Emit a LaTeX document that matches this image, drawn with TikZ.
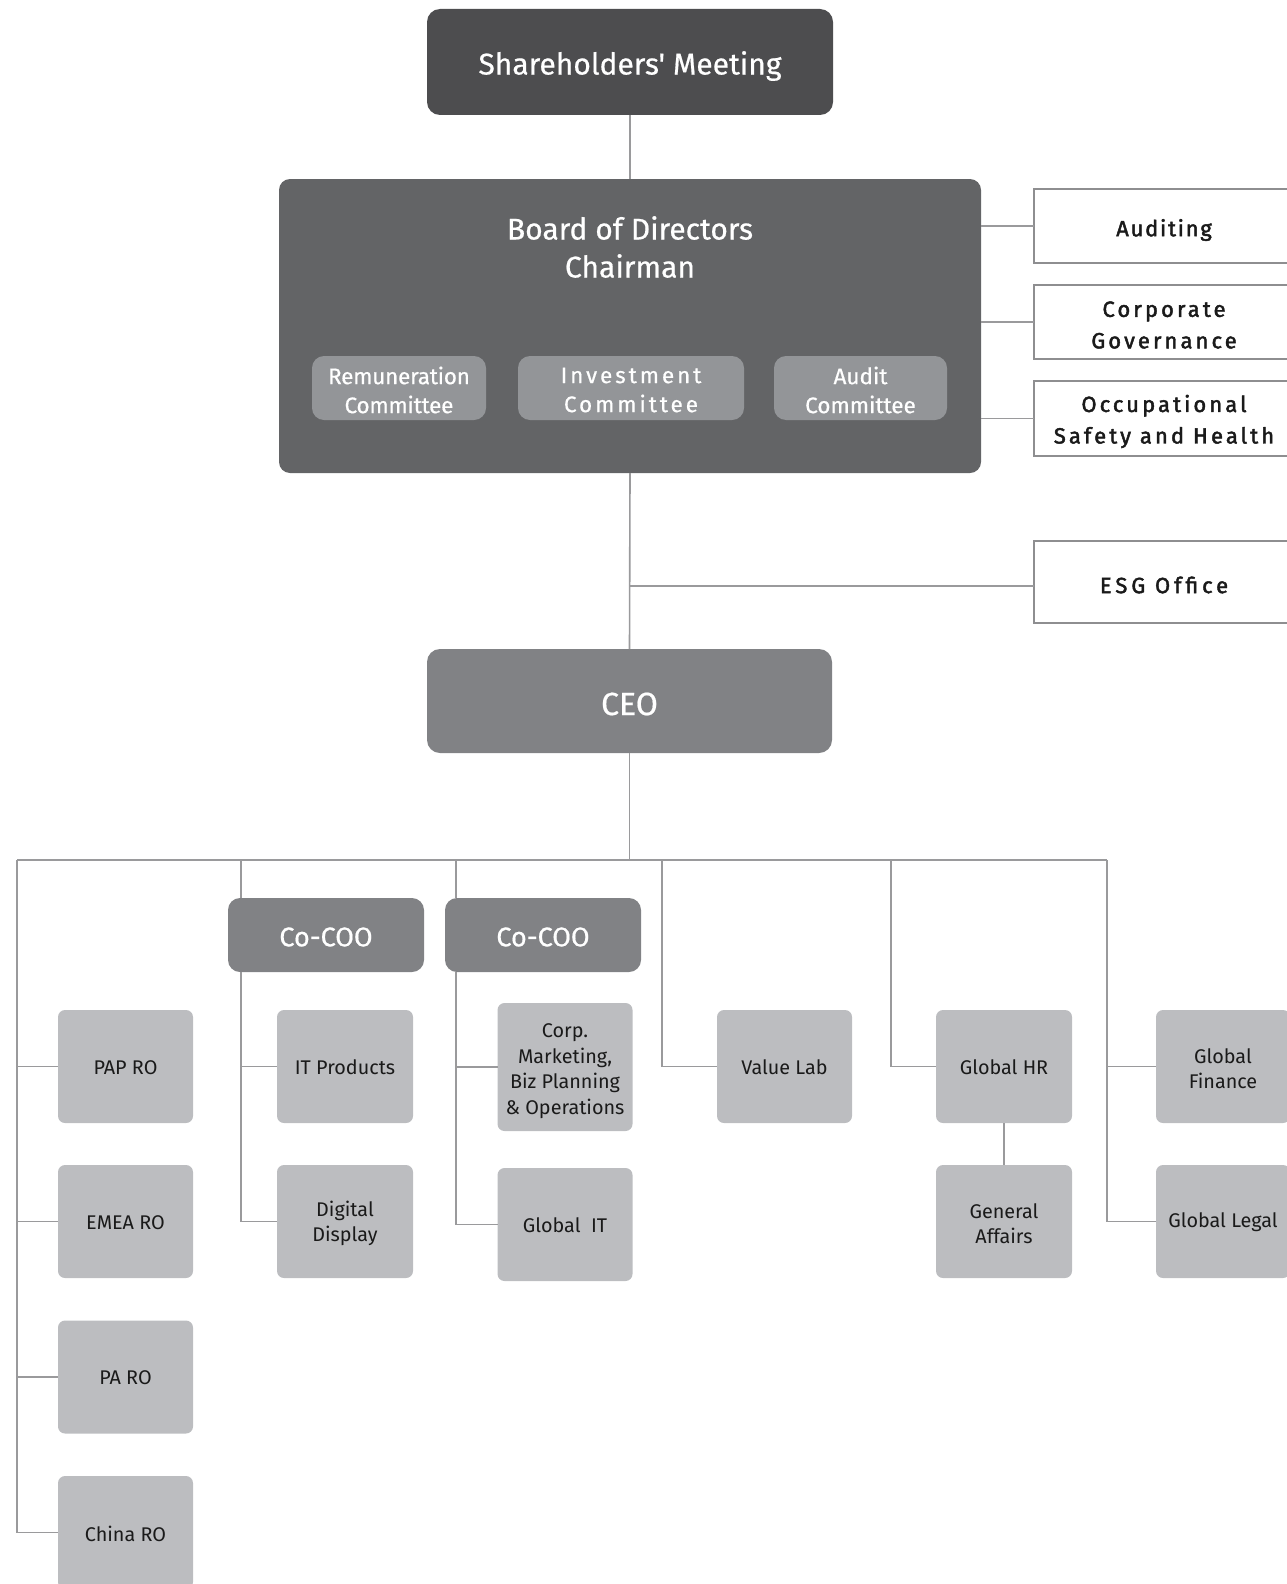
\documentclass[tikz,border=0pt]{standalone}
\usepackage{fontspec}
\setmainfont{Fira Sans}[Ligatures=TeXOff]
\newfontfamily\wfont{Fira Sans}[FakeBold=0.6, Ligatures=TeXOff]
\newfontfamily\sfont{Fira Sans}[FakeBold=2, Ligatures=TeXOff]
\definecolor{cdark}{HTML}{4D4D4F}
\definecolor{cboard}{HTML}{636466}
\definecolor{ccomm}{HTML}{939598}
\definecolor{cceo}{HTML}{818285}
\definecolor{cgray}{HTML}{BCBDC0}
\definecolor{cline}{HTML}{9A9A9C}
\definecolor{cborder}{HTML}{8E8E90}
\definecolor{ctext}{HTML}{1A1A1A}
\tikzset{
  conn/.style={draw=cline, line width=1.6},
  base/.style={inner sep=0, outer sep=0, align=center},
  shbox/.style={base, fill=cdark, rounded corners=13},
  boardbox/.style={base, fill=cboard, rounded corners=11},
  commbox/.style={base, fill=ccomm, rounded corners=12, minimum height=64},
  sidebox/.style={base, draw=cborder, line width=2.6, fill=white, minimum width=260},
  ceobox/.style={base, fill=cceo, rounded corners=13},
  coobox/.style={base, fill=cceo, rounded corners=12, minimum width=196, minimum height=74},
  graybox/.style={base, fill=cgray, rounded corners=7, minimum width=135, minimum height=113},
  bigtxt/.style={base, text=white, font=\wfont\fontsize{30}{38}\selectfont},
  commtxt/.style={base, text=white, font=\wfont\fontsize{22.5}{29}\selectfont},
  sidetxt/.style={base, text=ctext, font=\sfont\fontsize{22}{31.5}\selectfont},
  ceotxt/.style={base, text=white, font=\wfont\fontsize{32}{36}\selectfont},
  cootxt/.style={base, text=white, font=\wfont\fontsize{27}{30}\selectfont},
  graytxt/.style={base, text=ctext, font=\fontsize{19.8}{25.5}\selectfont},
}
\newcommand\wide[1]{\addfontfeatures{LetterSpace=#1}}
\begin{document}
\begin{tikzpicture}[x=1pt,y=-1pt]
\useasboundingbox (0,0) rectangle (1287,1584);

% top level
\node[shbox, minimum width=406, minimum height=106] (sh) at (630,62) {};
\node[bigtxt, yshift=-4] (sh-t) at (sh) {Shareholders' Meeting};
\node[boardbox, minimum width=702, minimum height=294] (board) at (630,326) {};
\node[bigtxt] (board-t) at (630,247) {Board of Directors\\Chairman};
\node[commbox, minimum width=174] (rem) at (399,388) {};
\node[commtxt, yshift=-2] (rem-t) at (rem) {\wide{-1}Remuneration\\\wide{-1}Committee};
\node[commbox, minimum width=226] (inv) at (631,388) {};
\node[commtxt, yshift=-2] (inv-t) at (inv) {\wide{13}Investment\\\wide{13}Committee};
\node[commbox, minimum width=173] (aud) at (860.5,388) {};
\node[commtxt, yshift=-2] (aud-t) at (aud) {Audit\\Committee};

% side boxes
\node[sidebox, minimum height=74] (auditing) at (1164,226) {};
\node[sidetxt, yshift=-4] (auditing-t) at (auditing) {\wide{8}Auditing};
\node[sidebox, minimum height=74] (cg) at (1164,322) {};
\node[sidetxt, yshift=-3] (cg-t) at (cg) {\wide{14}Corporate\\\wide{14}Governance};
\node[sidebox, minimum height=75] (osh) at (1164,418.5) {};
\node[sidetxt, yshift=-3] (osh-t) at (osh) {\wide{14}Occupational\\\wide{14}Safety and Health};
\node[sidebox, minimum height=82] (esg) at (1164,582) {};
\node[sidetxt, yshift=-3] (esg-t) at (esg) {\wide{18}ESG Office};

% CEO
\node[ceobox, minimum width=405, minimum height=104] (ceo) at (629.5,701) {};
\node[ceotxt, yshift=-3] (ceo-t) at (ceo) {CEO};

% connectors top
\draw[conn] (sh.south) -- (board.north);
\draw[conn] (board.south) -- (ceo.north);
\draw[conn] (board.east |- auditing) -- (auditing.west);
\draw[conn] (board.east |- cg) -- (cg.west);
\draw[conn] (board.east |- osh) -- (osh.west);
\coordinate (esgj) at (630,586);
\draw[conn] (esgj) -- (esgj -| esg.west);

% bus
\coordinate (d0) at (17,860);
\coordinate (d1) at (241,860);
\coordinate (d2) at (456,860);
\coordinate (d3) at (662,860);
\coordinate (d4) at (891,860);
\coordinate (d5) at (1107,860);
\coordinate (ceoj) at (629.5,860);
\draw[conn] (ceo.south) -- (ceoj);
\draw[conn] (d0) -- (d5);

% co-COOs
\node[coobox] (coo1) at (326,935) {};
\node[cootxt, yshift=-2] (coo1-t) at (coo1) {Co-COO};
\node[coobox] (coo2) at (543,935) {};
\node[cootxt, yshift=-2] (coo2-t) at (coo2) {Co-COO};

% left column
\node[graybox] (pap) at (125.5,1066.5) {};
\node[graytxt, yshift=-1] (pap-t) at (pap) {PAP RO};
\node[graybox] (emea) at (125.5,1221.5) {};
\node[graytxt, yshift=-1] (emea-t) at (emea) {EMEA RO};
\node[graybox] (pa) at (125.5,1377) {};
\node[graytxt, yshift=-1] (pa-t) at (pa) {PA RO};
\node[graybox] (china) at (125.5,1532.5) {};
\node[graytxt, yshift=-1] (china-t) at (china) {China RO};

% co-COO 1 children
\node[graybox, minimum width=136] (itp) at (345,1066.5) {};
\node[graytxt, yshift=-1] (itp-t) at (itp) {IT Products};
\node[graybox, minimum width=136] (dd) at (345,1221.5) {};
\node[graytxt, yshift=-2] (dd-t) at (dd) {Digital\\Display};

% co-COO 2 children
\node[graybox, minimum height=128] (corp) at (565,1067) {};
\node[graytxt, yshift=-4] (corp-t) at (corp) {Corp.\\Marketing,\\Biz Planning\\\&{} Operations};
\node[graybox] (git) at (565,1224.5) {};
\node[graytxt, yshift=-1] (git-t) at (git) {Global\ \ IT};

% others
\node[graybox] (vl) at (784.5,1066.5) {};
\node[graytxt, yshift=-1] (vl-t) at (vl) {Value Lab};
\node[graybox, minimum width=136] (hr) at (1004,1066.5) {};
\node[graytxt, yshift=-1] (hr-t) at (hr) {Global HR};
\node[graybox, minimum width=136] (ga) at (1004,1221.5) {};
\node[graytxt, yshift=-2] (ga-t) at (ga) {General\\Affairs};
\node[graybox, minimum width=134] (fin) at (1223,1066.5) {};
\node[graytxt, yshift=-2] (fin-t) at (fin) {Global\\Finance};
\node[graybox, minimum width=134] (legal) at (1223,1221.5) {};
\node[graytxt, yshift=-1] (legal-t) at (legal) {Global Legal};

% connectors below bus
\draw[conn] (d0) -- (d0 |- china) -- (china.west);
\draw[conn] (d0 |- pap) -- (pap.west);
\draw[conn] (d0 |- emea) -- (emea.west);
\draw[conn] (d0 |- pa) -- (pa.west);

\draw[conn] (d1) -- (d1 |- coo1.north);
\draw[conn] (d1 |- coo1.south) -- (d1 |- dd) -- (dd.west);
\draw[conn] (d1 |- itp) -- (itp.west);

\draw[conn] (d2) -- (d2 |- coo2.north);
\draw[conn] (d2 |- coo2.south) -- (d2 |- git) -- (git.west);
\draw[conn] (d2 |- corp) -- (corp.west);

\draw[conn] (d3) -- (d3 |- vl) -- (vl.west);
\draw[conn] (d4) -- (d4 |- hr) -- (hr.west);
\draw[conn] (hr.south) -- (ga.north);
\draw[conn] (d5) -- (d5 |- legal) -- (legal.west);
\draw[conn] (d5 |- fin) -- (fin.west);
\end{tikzpicture}
\end{document}
